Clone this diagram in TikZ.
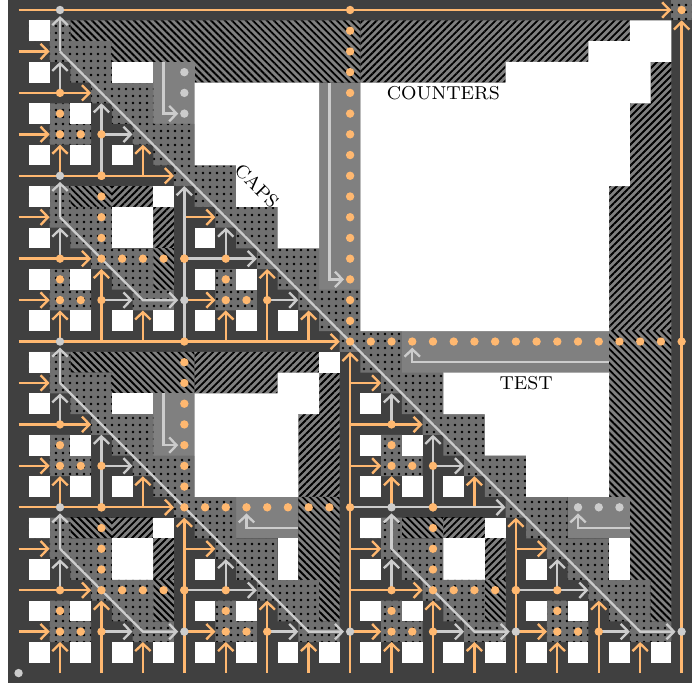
\documentclass[tikz,border=0pt]{standalone}
\usepackage{xcolor}
\usetikzlibrary{arrows.meta,patterns.meta}
\definecolor{darkbg}{HTML}{404040}
\definecolor{cellgray}{HTML}{707070}
\definecolor{panelgray}{HTML}{808080}
\definecolor{orangeacc}{HTML}{FFB870}
\definecolor{graywire}{HTML}{CCCCCC}
\tikzset{
  dotcell/.style={fill=cellgray,postaction={pattern={Dots[distance=3pt,radius=.6pt]},pattern color=black}},
  hatchne/.style={fill=panelgray,postaction={pattern={Lines[angle=45,distance=2.12pt,line width=.8pt]},pattern color=black}},
  hatchnw/.style={fill=panelgray,postaction={pattern={Lines[angle=-45,distance=2.12pt,line width=.8pt]},pattern color=black}},
  panel/.style={fill=panelgray},
  wire/.style={line width=1pt},
  owire/.style={wire,orangeacc},
  gwire/.style={wire,graywire},
  halfarr/.style={->,shorten >=4.44pt},
  pinarr/.style={->,shorten >=2.6pt},
}
\newcommand{\stairs}[3]{%
  \fill[dotcell,shift={(#1,#2)}]
    foreach \ry [evaluate=\ry as \wd using {int(3-mod(\ry,2))}] in {1,...,#3}
      {(\ry-.5,\ry-.5) rectangle ++(\wd,1)}
    (#3+.5,#3+.5) rectangle ++(2,1);}
\newcommand{\whites}[1]{\foreach \cx/\ry in {#1}
  {\fill[white] (\cx-.5,\ry-.5) rectangle ++(1,1);}}
\newcommand{\orangepts}[1]{\foreach \cx/\ry in {#1}
  {\fill[orangeacc] (\cx,\ry) circle (1.8pt);}}
\newcommand{\graypts}[1]{\foreach \cx/\ry in {#1}
  {\fill[graywire] (\cx,\ry) circle (1.8pt);}}
% one 8x8 block: offset, colour of the middle row, colour of the long riser
\newcommand{\leaf}[4]{%
  \begin{scope}[shift={(#1,#2)}]
    \fill[dotcell] (1.5,4.5) rectangle (2.5,5.5) (1.5,5.5) rectangle (3.5,6.5);
    \whites{1/3,1/5,3/5,1/7,3/7,5/7}
    \draw[owire,halfarr] (0,2)--(2,2);
    \draw[owire,halfarr] (0,6)--(2,6);
    \draw[owire,halfarr] (2,8)--(2,6);
    \draw[owire,halfarr] (6,8)--(6,6);
    \draw[wire,#3,halfarr] (0,4)--(4,4);
    \draw[gwire,halfarr] (2,4)--(2,2);
    \draw[wire,#4,halfarr] (4,8)--(4,4);
    \draw[gwire,halfarr] (4,6)--(6,6);
    \orangepts{2/4,2/5,2/6,3/6,4/6}
  \end{scope}}
% hatched corner of a block with a square hole
\newcommand{\holeblock}[2]{%
  \begin{scope}[shift={(#1,#2)}]
    \fill[hatchnw] (2.5,.5) rectangle (4.5,1.5);
    \fill[hatchne] (4.5,.5) rectangle (6.5,1.5);
    \fill[hatchne] (6.5,1.5) rectangle (7.5,3.5);
    \fill[hatchnw] (6.5,3.5) rectangle (7.5,5.5);
    \fill[white] (4.5,1.5) rectangle (6.5,3.5);
    \whites{7/1}
  \end{scope}}
\begin{document}
\begin{tikzpicture}[x=8.88pt,y=-8.88pt,>={Straight Barb[length=3.2pt,width=6.6pt]}]
  \useasboundingbox (-.896,-.483) rectangle (32.5,32.53);
  \fill[darkbg] (-.5,-.5) rectangle (32.5,32.5);

  % hatched strips
  \fill[hatchnw] (2.5,.5)--(16.5,.5)--(16.5,3.5)--(8.5,3.5)--(8.5,2.5)--(4.5,2.5)--(4.5,1.5)--(2.5,1.5)--cycle;
  \fill[hatchne] (16.5,.5)--(29.5,.5)--(29.5,1.5)--(27.5,1.5)--(27.5,2.5)--(23.5,2.5)--(23.5,3.5)--(16.5,3.5)--cycle;
  \fill[hatchne] (31.5,2.5)--(31.5,15.5)--(28.5,15.5)--(28.5,8.5)--(29.5,8.5)--(29.5,4.5)--(30.5,4.5)--(30.5,2.5)--cycle;
  \fill[hatchnw] (28.5,15.5)--(31.5,15.5)--(31.5,29.5)--(30.5,29.5)--(30.5,27.5)--(29.5,27.5)--(29.5,23.5)--(28.5,23.5)--cycle;
  \fill[hatchnw] (2.5,16.5)--(8.5,16.5)--(8.5,18.5)--(4.5,18.5)--(4.5,17.5)--(2.5,17.5)--cycle;
  \fill[hatchne] (8.5,16.5)--(14.5,16.5)--(14.5,17.5)--(12.5,17.5)--(12.5,18.5)--(8.5,18.5)--cycle;
  \fill[hatchne] (14.5,17.5)--(15.5,17.5)--(15.5,23.5)--(13.5,23.5)--(13.5,19.5)--(14.5,19.5)--cycle;
  \fill[hatchnw] (13.5,23.5)--(15.5,23.5)--(15.5,29.5)--(14.5,29.5)--(14.5,27.5)--(13.5,27.5)--cycle;
  \holeblock{0}{8}
  \holeblock{0}{24}
  \holeblock{16}{24}

  % plain panels
  \fill[panel] (6.5,2.5) rectangle (8.5,5.5);
  \fill[panel] (14.5,3.5) rectangle (16.5,13.5);
  \fill[panel] (18.5,15.5) rectangle (28.5,17.5);
  \fill[panel] (6.5,18.5) rectangle (8.5,21.5);
  \fill[panel] (10.5,23.5) rectangle (13.5,25.5);
  \fill[panel] (26.5,23.5) rectangle (29.5,25.5);

  % dotted staircases
  \stairs{0}{0}{29}
  \stairs{0}{8}{5}
  \stairs{0}{16}{13}
  \stairs{0}{24}{5}
  \stairs{16}{24}{5}
  \fill[dotcell] (31.5,-.5) rectangle (32.5,.5);

  % white areas
  \fill[white] (8.5,3.5)--(14.5,3.5)--(14.5,11.5)--(12.5,11.5)--(12.5,9.5)--(10.5,9.5)--(10.5,7.5)--(8.5,7.5)--cycle;
  \fill[white] (16.5,3.5)--(23.5,3.5)--(23.5,2.5)--(27.5,2.5)--(27.5,1.5)--(29.5,1.5)--(29.5,.5)--(31.5,.5)--(31.5,2.5)--(30.5,2.5)--(30.5,4.5)--(29.5,4.5)--(29.5,8.5)--(28.5,8.5)--(28.5,15.5)--(16.5,15.5)--cycle;
  \fill[white] (20.5,17.5)--(28.5,17.5)--(28.5,23.5)--(24.5,23.5)--(24.5,21.5)--(22.5,21.5)--(22.5,19.5)--(20.5,19.5)--cycle;
  \fill[white] (8.5,18.5)--(12.5,18.5)--(12.5,17.5)--(14.5,17.5)--(14.5,19.5)--(13.5,19.5)--(13.5,23.5)--(8.5,23.5)--cycle;
  \fill[white] (4.5,2.5) rectangle (6.5,3.5);
  \fill[white] (12.5,25.5) rectangle (13.5,27.5);
  \fill[white] (28.5,25.5) rectangle (29.5,27.5);
  \fill[white] (4.5,18.5) rectangle (6.5,19.5);
  \whites{1/1,1/9,1/17,1/25,17/25,15/17,7/15,7/31,15/31,23/31,31/31}

  % repeated blocks
  \leaf{0}{0}{orangeacc}{graywire}
  \leaf{0}{8}{orangeacc}{orangeacc}
  \leaf{8}{8}{graywire}{orangeacc}
  \leaf{0}{16}{orangeacc}{graywire}
  \leaf{0}{24}{orangeacc}{orangeacc}
  \leaf{8}{24}{graywire}{orangeacc}
  \leaf{16}{16}{orangeacc}{graywire}
  \leaf{16}{24}{orangeacc}{orangeacc}
  \leaf{24}{24}{graywire}{orangeacc}

  % long wires
  \draw[owire,halfarr] (0,0)--(32,0);
  \draw[owire,halfarr] (32,32)--(32,0);
  \draw[owire,halfarr] (0,8)--(8,8);
  \draw[owire,halfarr] (0,16)--(16,16);
  \draw[owire,halfarr] (0,24)--(8,24);
  \draw[gwire,halfarr] (16,24)--(24,24);
  \draw[gwire,halfarr] (8,16)--(8,8);
  \draw[owire,halfarr] (8,32)--(8,24);
  \draw[owire,halfarr] (16,32)--(16,16);
  \draw[owire,halfarr] (24,32)--(24,24);

  % diagonals
  \draw[gwire,pinarr] (2,2)--(2,0);
  \draw[gwire,pinarr] (2,2)--(30,30)--(32,30);
  \draw[gwire,pinarr] (2,10)--(2,8);
  \draw[gwire,pinarr] (2,10)--(6,14)--(8,14);
  \draw[gwire,pinarr] (2,18)--(2,16);
  \draw[gwire,pinarr] (2,18)--(14,30)--(16,30);
  \draw[gwire,pinarr] (2,26)--(2,24);
  \draw[gwire,pinarr] (2,26)--(6,30)--(8,30);
  \draw[gwire,pinarr] (18,26)--(18,24);
  \draw[gwire,pinarr] (18,26)--(22,30)--(24,30);

  % panel wires
  \draw[gwire,pinarr] (7,2.5)--(7,5)--(8,5);
  \draw[gwire,pinarr] (15,3.5)--(15,13)--(16,13);
  \draw[gwire,pinarr] (7,18.5)--(7,21)--(8,21);
  \draw[gwire,pinarr] (28.5,17)--(19,17)--(19,16);
  \draw[gwire,pinarr] (13.5,25)--(11,25)--(11,24);
  \draw[gwire,pinarr] (29.5,25)--(27,25)--(27,24);

  % contact points
  \foreach \kk in {0,...,16} {\orangepts{16/\kk}}
  \foreach \kk in {17,...,32} {\orangepts{\kk/16}}
  \foreach \kk in {16,...,24} {\orangepts{8/\kk}}
  \foreach \kk in {9,...,16} {\orangepts{\kk/24}}
  \foreach \ox/\oy in {0/8,0/24,16/24} {
    \begin{scope}[shift={(\ox,\oy)}]
      \orangepts{4/0,4/1,4/2,4/3,4/4,5/4,6/4,7/4,8/4}
    \end{scope}}
  \orangepts{4/8,4/24,20/24,32/0,8/12,8/28,24/28}
  \graypts{2/0,2/8,2/16,2/24,18/24,8/14,8/30,16/30,24/30,32/30,0/32}
  \graypts{8/3,8/4,8/5,27/24,28/24,29/24}

  \node[font=\footnotesize] (counterslabel) at (20.5,4) {COUNTERS};
  \node[font=\footnotesize] (testlabel) at (24.5,18) {TEST};
  \node[font=\footnotesize,rotate=-45] (capslabel) at (11.5,8.5) {CAPS};
\end{tikzpicture}
\end{document}
